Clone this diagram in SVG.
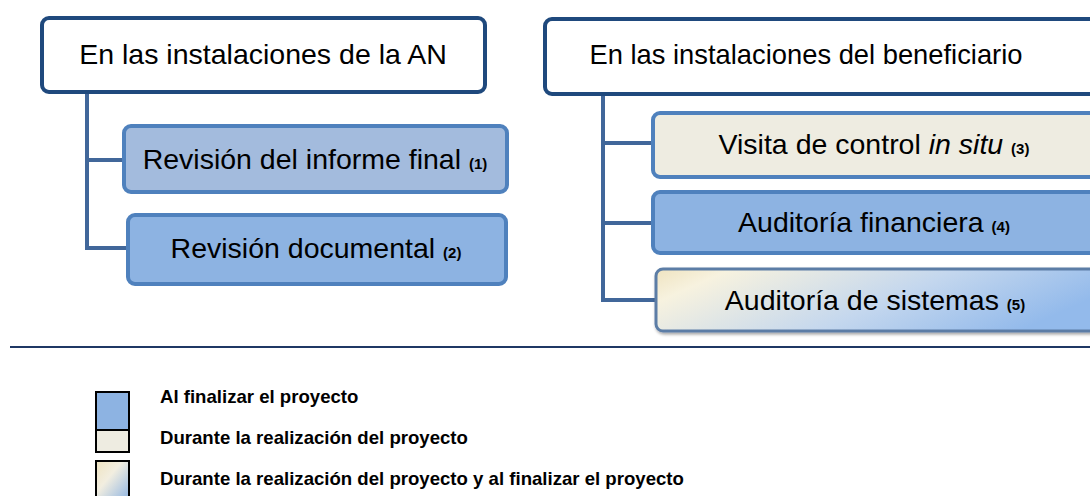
<svg xmlns="http://www.w3.org/2000/svg" width="1090" height="496" viewBox="0 0 1090 496">
<defs>
<style>
.head{fill:#fff;stroke:#1F497D;stroke-width:4}
.child{stroke:#4F81BD;stroke-width:4}
.conn{fill:none;stroke:#41679A;stroke-width:4}
.t{font-family:"Liberation Sans",Arial,sans-serif;fill:#000}
.big{font-size:28.5px}
.sml{font-size:15px;font-weight:bold}
.leg{font-family:"Liberation Sans",Arial,sans-serif;font-size:18.6px;font-weight:bold;fill:#000}
</style>
<linearGradient id="mix" x1="0" y1="0" x2="1" y2="0.3">
<stop offset="0" stop-color="#EFE3C0"/>
<stop offset="0.15" stop-color="#F7F2DF"/>
<stop offset="0.6" stop-color="#C4D7EE"/>
<stop offset="1" stop-color="#93BAEB"/>
</linearGradient>
<linearGradient id="mixleg" x1="0" y1="0" x2="1" y2="1">
<stop offset="0" stop-color="#EFE3C0"/>
<stop offset="0.4" stop-color="#F2EEE0"/>
<stop offset="1" stop-color="#8DB3E2"/>
</linearGradient>
<filter id="sh" x="-5%" y="-20%" width="110%" height="140%">
<feDropShadow dx="1" dy="2" stdDeviation="1.5" flood-color="#000" flood-opacity="0.35"/>
</filter>
</defs>

<g id="connectors">
<path class="conn" d="M87,92 V248 H127 M87,160 H123"/>
<path class="conn" d="M603,95 V300 H655 M603,143 H652 M603,223 H652"/>
</g>

<g id="node-an">
<rect class="head" x="42" y="18" width="443" height="74" rx="7"/>
<text class="t big" x="263" y="64" text-anchor="middle">En las instalaciones de la AN</text>
</g>

<g id="node-benef">
<rect class="head" x="545" y="19" width="570" height="75" rx="7"/>
<text class="t big" x="806" y="64" text-anchor="middle" textLength="433" lengthAdjust="spacingAndGlyphs">En las instalaciones del beneficiario</text>
</g>

<g id="node-informe">
<rect class="child" x="124" y="126" width="383" height="66" rx="7" fill="#A3BBDD"/>
<text class="t big" x="315" y="169" text-anchor="middle">Revisión del informe final <tspan class="sml">(1)</tspan></text>
</g>

<g id="node-documental">
<rect class="child" x="128" y="215" width="378" height="69" rx="7" fill="#8DB3E2"/>
<text class="t big" x="316" y="258" text-anchor="middle">Revisión documental <tspan class="sml">(2)</tspan></text>
</g>

<g id="node-visita">
<rect class="child" x="653" y="113" width="460" height="64" rx="7" fill="#EEECE1"/>
<text class="t big" x="874" y="154" text-anchor="middle">Visita de control <tspan font-style="italic">in situ</tspan> <tspan class="sml">(3)</tspan></text>
</g>

<g id="node-financiera">
<rect class="child" x="653" y="192" width="460" height="61" rx="7" fill="#8DB3E2"/>
<text class="t big" x="874" y="232" text-anchor="middle">Auditoría financiera <tspan class="sml">(4)</tspan></text>
</g>

<g id="node-sistemas">
<rect x="656" y="269" width="460" height="62" rx="7" fill="url(#mix)" stroke="#5C7DA6" stroke-width="3" filter="url(#sh)"/>
<text class="t big" x="875" y="310" text-anchor="middle">Auditoría de sistemas <tspan class="sml">(5)</tspan></text>
</g>

<line x1="10" y1="347" x2="1090" y2="347" stroke="#1F3864" stroke-width="2"/>

<g id="legend">
<rect x="96" y="392" width="33" height="38" fill="#8DB3E2" stroke="#000" stroke-width="2"/>
<rect x="96" y="430" width="33" height="22" fill="#EEECE1" stroke="#000" stroke-width="2"/>
<rect x="96" y="461" width="33" height="40" fill="url(#mixleg)" stroke="#000" stroke-width="2"/>
<text class="leg" x="160" y="403">Al finalizar el proyecto</text>
<text class="leg" x="160" y="444">Durante la realización del proyecto</text>
<text class="leg" x="160" y="485">Durante la realización del proyecto y al finalizar el proyecto</text>
</g>
</svg>
